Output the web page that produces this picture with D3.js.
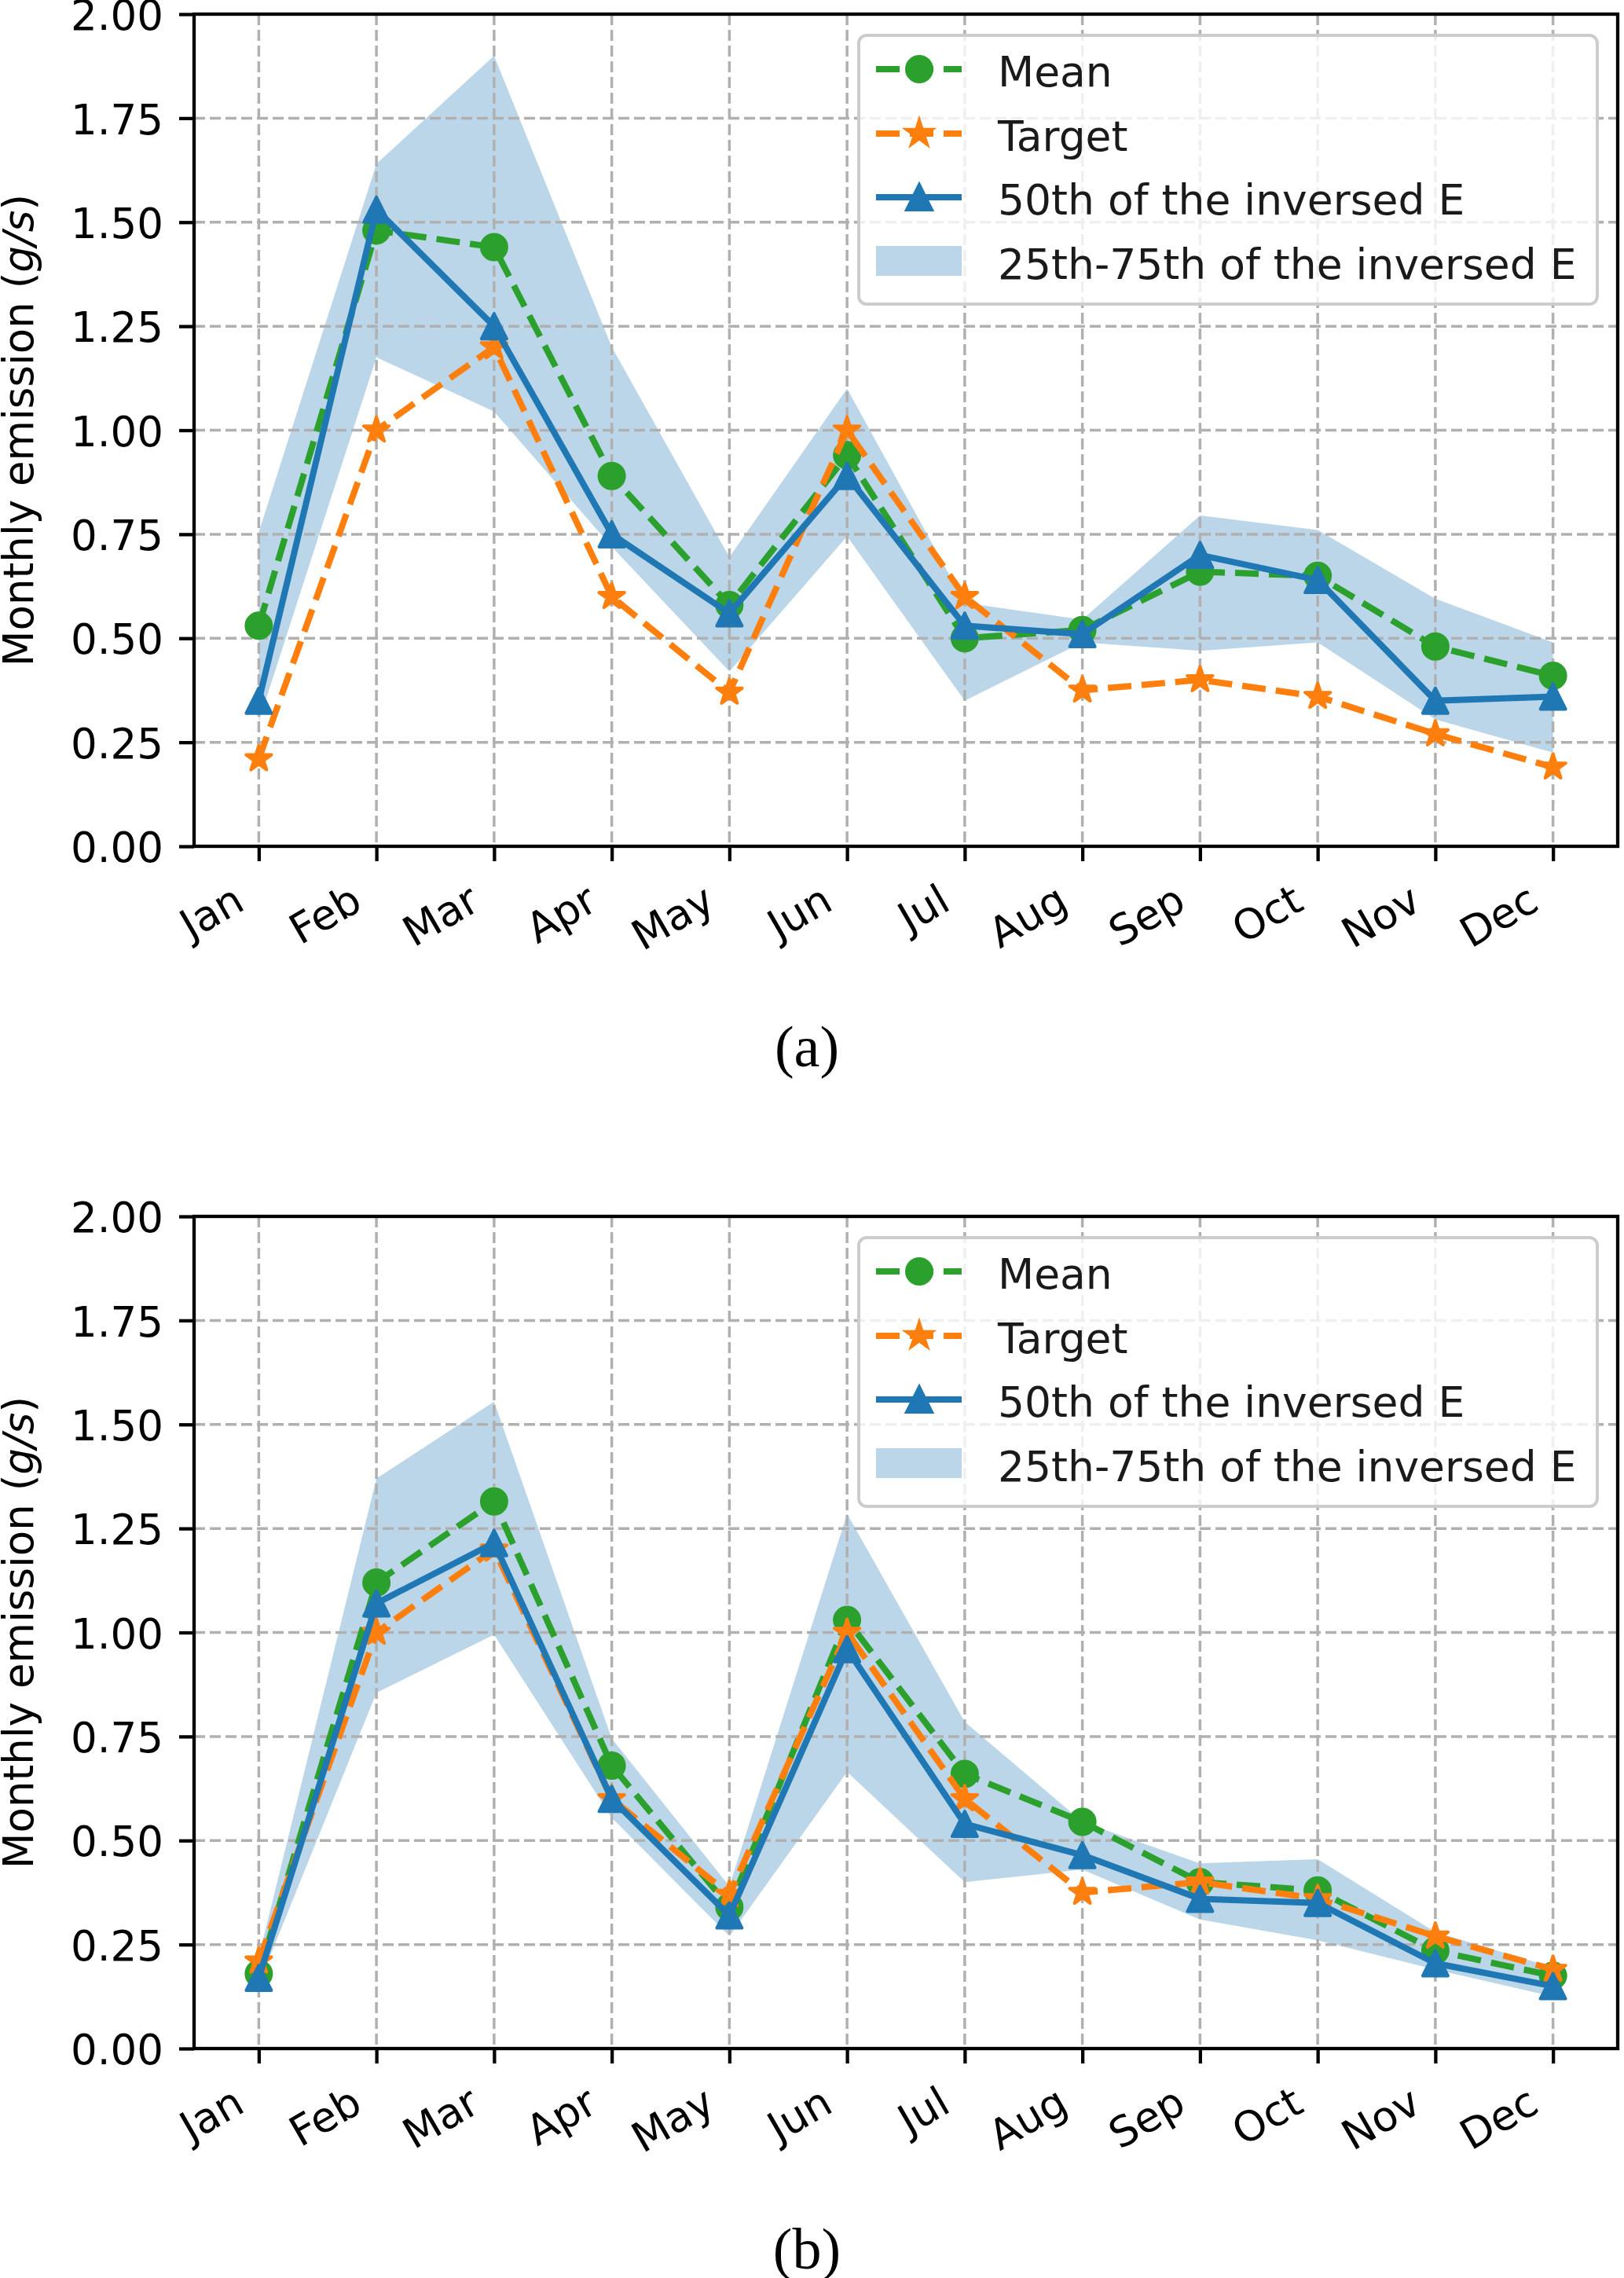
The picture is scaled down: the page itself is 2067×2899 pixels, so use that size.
<!DOCTYPE html>
<html>
<head>
<meta charset="utf-8">
<script src="https://cdn.jsdelivr.net/npm/d3@7"></script>
<style>
  body { margin: 0; background: #fff; }
  text { font-family: "DejaVu Sans", sans-serif; }
  text.caption { font-family: "Liberation Serif", "Times New Roman", serif; }
</style>
</head>
<body>
<svg id="chart" width="2067" height="2899"></svg>
<script>
// Values
const months = ["Jan", "Feb", "Mar", "Apr", "May", "Jun", "Jul", "Aug", "Sep", "Oct", "Nov", "Dec"];
const yTickValues = [0, 0.25, 0.5, 0.75, 1.0, 1.25, 1.5, 1.75, 2.0];
const target = [0.21, 1.00, 1.20, 0.60, 0.37, 1.00, 0.60, 0.375, 0.40, 0.36, 0.27, 0.19];

const meanA = [0.53, 1.48, 1.44, 0.89, 0.58, 0.94, 0.50, 0.52, 0.66, 0.65, 0.48, 0.41];
const medianA = [0.35, 1.53, 1.25, 0.75, 0.56, 0.89, 0.53, 0.51, 0.70, 0.64, 0.35, 0.36];
const q25A = [0.30, 1.175, 1.045, 0.72, 0.42, 0.745, 0.35, 0.49, 0.47, 0.49, 0.305, 0.225];
const q75A = [0.755, 1.64, 1.90, 1.20, 0.695, 1.10, 0.585, 0.545, 0.795, 0.76, 0.595, 0.49];

const meanB = [0.18, 1.12, 1.315, 0.68, 0.34, 1.03, 0.66, 0.545, 0.40, 0.38, 0.235, 0.175];
const medianB = [0.17, 1.07, 1.215, 0.60, 0.32, 0.96, 0.54, 0.465, 0.36, 0.35, 0.205, 0.15];
const q25B = [0.155, 0.855, 0.995, 0.555, 0.27, 0.665, 0.40, 0.43, 0.31, 0.26, 0.19, 0.125];
const q75B = [0.22, 1.37, 1.555, 0.745, 0.39, 1.285, 0.785, 0.545, 0.445, 0.455, 0.28, 0.195];

const legendLabels = ["Mean", "Target", "50th of the inversed E", "25th-75th of the inversed E"];

const C_BLUE = "#1f77b4", C_ORANGE = "#ff7f0e", C_GREEN = "#2ca02c";

const svg = d3.select("#chart");
const left = 247, right = 2059;
const x = d3.scaleLinear().domain([-0.55, 11.55]).range([left, right]);

// marker shapes (matplotlib-like, size 6pt)
const R = 16;
function circlePath(r) {
  return `M${r},0A${r},${r} 0 1,1 ${-r},0A${r},${r} 0 1,1 ${r},0Z`;
}
function trianglePath(r) {
  return `M0,${-r}L${-r},${r}L${r},${r}Z`;
}
function starPath(r) {
  const inner = r * 0.381966;
  const pts = [];
  for (let k = 0; k < 10; k++) {
    const a = -Math.PI / 2 + k * Math.PI / 5;
    const rr = k % 2 === 0 ? r : inner;
    pts.push([rr * Math.cos(a), rr * Math.sin(a)]);
  }
  return "M" + pts.map(p => p[0].toFixed(2) + "," + p[1].toFixed(2)).join("L") + "Z";
}

const series = (p) => [
  { values: p.mean, color: C_GREEN, dash: "30,13", marker: circlePath(R) },
  { values: target, color: C_ORANGE, dash: "30,13", marker: starPath(R + 1) },
  { values: p.median, color: C_BLUE, dash: null, marker: trianglePath(R) }
];

function drawPanel(p) {
  const y = d3.scaleLinear().domain([0, 2]).range([p.bottom, p.top]);
  const g = svg.append("g");

  // 25th-75th band
  const area = d3.area()
    .x((d, i) => x(i))
    .y0((d, i) => y(p.q25[i]))
    .y1((d, i) => y(p.q75[i]));
  g.append("path").datum(months).attr("d", area)
    .attr("fill", C_BLUE).attr("fill-opacity", 0.3);

  // grid
  const grid = g.append("g").attr("stroke", "#b0b0b0").attr("stroke-width", 3.5)
    .attr("stroke-dasharray", "14,6");
  grid.selectAll(".gx").data(d3.range(months.length)).join("line")
    .attr("x1", d => x(d)).attr("x2", d => x(d))
    .attr("y1", p.top).attr("y2", p.bottom);
  grid.selectAll(".gy").data(yTickValues).join("line")
    .attr("x1", left).attr("x2", right)
    .attr("y1", d => y(d)).attr("y2", d => y(d));

  // lines and markers
  const line = d3.line().x((d, i) => x(i)).y(d => y(d));
  series(p).forEach(s => {
    g.append("path").datum(s.values).attr("d", line)
      .attr("fill", "none").attr("stroke", s.color).attr("stroke-width", 8)
      .attr("stroke-linejoin", "round")
      .attr("stroke-dasharray", s.dash);
    g.append("g").selectAll("path").data(s.values).join("path")
      .attr("d", s.marker)
      .attr("transform", (d, i) => `translate(${x(i)},${y(d)})`)
      .attr("fill", s.color).attr("stroke", s.color).attr("stroke-width", 4)
      .attr("stroke-linejoin", "round");
  });

  // axes
  const xAxis = g.append("g").attr("transform", `translate(0,${p.bottom})`)
    .call(d3.axisBottom(x).tickValues(d3.range(months.length))
      .tickFormat(i => months[i]).tickSize(19));
  xAxis.select(".domain").remove();
  xAxis.selectAll(".tick line").attr("stroke", "#000").attr("stroke-width", 4.3);
  xAxis.selectAll(".tick text")
    .attr("x", 0).attr("y", 0).attr("dy", null)
    .attr("text-anchor", "end")
    .attr("transform", "translate(-16,79) rotate(-30)")
    .attr("font-size", 53).attr("fill", "#000");

  const yAxis = g.append("g").attr("transform", `translate(${left},0)`)
    .call(d3.axisLeft(y).tickValues(yTickValues).tickFormat(d3.format(".2f"))
      .tickSize(19).tickPadding(20));
  yAxis.select(".domain").remove();
  yAxis.selectAll(".tick line").attr("stroke", "#000").attr("stroke-width", 4.3);
  yAxis.selectAll(".tick text").attr("dy", "0.37em")
    .attr("font-size", 53).attr("fill", "#000");

  // spines
  g.append("rect").attr("x", left).attr("y", p.top)
    .attr("width", right - left).attr("height", p.bottom - p.top)
    .attr("fill", "none").attr("stroke", "#000").attr("stroke-width", 4.3);

  // y label
  const yl = g.append("text")
    .attr("transform", `translate(42,${(p.top + p.bottom) / 2}) rotate(-90)`)
    .attr("text-anchor", "middle").attr("font-size", 53).attr("fill", "#000");
  yl.append("tspan").text("Monthly emission (");
  yl.append("tspan").attr("font-style", "italic").text("g/s");
  yl.append("tspan").text(")");

  // legend
  const lg = g.append("g").attr("transform", `translate(1093,${p.top + 27})`);
  lg.append("rect").attr("width", 940).attr("height", 342).attr("rx", 10)
    .attr("fill", "#fff").attr("fill-opacity", 0.8)
    .attr("stroke", "#cccccc").attr("stroke-width", 4);
  const rowBase = [65, 147, 228, 310];
  const hx0 = 22, hx1 = 131, hxm = 77;
  series(p).forEach((s, k) => {
    const cy = rowBase[k] - 22;
    lg.append("line").attr("x1", hx0).attr("x2", hx1).attr("y1", cy).attr("y2", cy)
      .attr("stroke", s.color).attr("stroke-width", 8)
      .attr("stroke-dasharray", s.dash ? "30,13" : null);
    lg.append("path").attr("d", s.marker).attr("transform", `translate(${hxm},${cy})`)
      .attr("fill", s.color).attr("stroke", s.color).attr("stroke-width", 4);
  });
  lg.append("rect").attr("x", hx0).attr("y", rowBase[3] - 42)
    .attr("width", hx1 - hx0).attr("height", 38)
    .attr("fill", C_BLUE).attr("fill-opacity", 0.3);
  lg.selectAll(".lt").data(legendLabels).join("text")
    .attr("x", 177).attr("y", (d, i) => rowBase[i])
    .attr("font-size", 53.5).attr("fill", "#1a1a1a").text(d => d);

  // caption
  svg.append("text").attr("class", "caption")
    .attr("x", 1027).attr("y", p.bottom + 280)
    .attr("text-anchor", "middle")
    .attr("font-size", 74).attr("fill", "#000").text(p.caption);
}

drawPanel({ top: 18, bottom: 1077, mean: meanA, median: medianA, q25: q25A, q75: q75A, caption: "(a)" });
drawPanel({ top: 1548, bottom: 2607, mean: meanB, median: medianB, q25: q25B, q75: q75B, caption: "(b)" });
</script>
</body>
</html>
